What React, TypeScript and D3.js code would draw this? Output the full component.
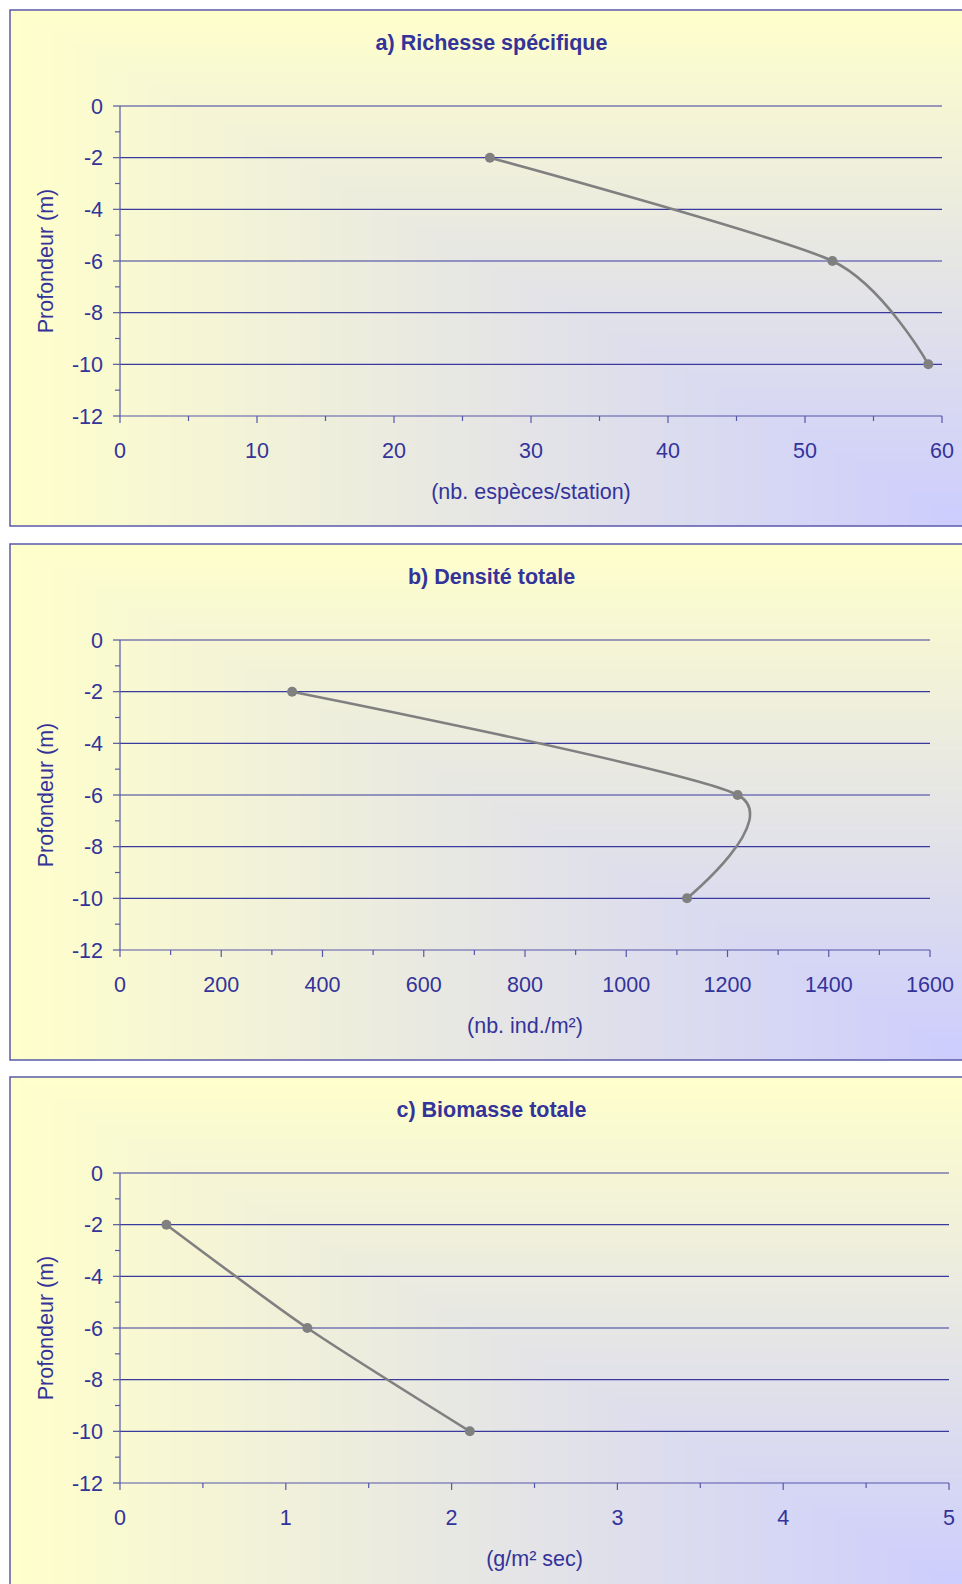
import React from "react";
import * as d3 from "d3";

// Depth of the three stations (m)
const depths = [-2, -6, -10];

// Series values per station
const richesse = [27, 52, 59];
const densite = [340, 1220, 1120];
const biomasse = [0.28, 1.13, 2.11];

// Axis ticks
const yTicks = [0, -2, -4, -6, -8, -10, -12];
const yMinor = [-1, -3, -5, -7, -9, -11];
const xTicksA = [0, 10, 20, 30, 40, 50, 60];
const xMinorA = [5, 15, 25, 35, 45, 55];
const xTicksB = [0, 200, 400, 600, 800, 1000, 1200, 1400, 1600];
const xMinorB = [100, 300, 500, 700, 900, 1100, 1300, 1500];
const xTicksC = [0, 1, 2, 3, 4, 5];
const xMinorC = [0.5, 1.5, 2.5, 3.5, 4.5];

// Texts
const titles = ["a) Richesse spécifique", "b) Densité totale", "c) Biomasse totale"];
const xLabels = ["(nb. espèces/station)", "(nb. ind./m²)", "(g/m² sec)"];
const yLabel = "Profondeur (m)";

const FONT = "'Liberation Sans', Arial, Helvetica, sans-serif";
const NAVY = "#333399";
const AXIS = "#5757a8";
const GRID = "#3a3a9e";
const SERIES = "#808080";

type PanelProps = {
  top: number;
  title: string;
  xLabel: string;
  values: number[];
  xTicks: number[];
  xMinor: number[];
  xRight: number;
  id: string;
};

function Panel({ top, title, xLabel, values, xTicks, xMinor, xRight, id }: PanelProps) {
  const left = 10;
  const width = 963;
  const height = 516;
  const plotTop = top + 96;
  const plotBottom = plotTop + 310;
  const plotLeft = 120;

  const x = d3
    .scaleLinear()
    .domain([xTicks[0], xTicks[xTicks.length - 1]])
    .range([plotLeft, xRight]);
  const y = d3.scaleLinear().domain([-12, 0]).range([plotBottom, plotTop]);

  // corner-anchored fill: bands shrink toward the lower-right corner
  const nBands = 90;
  const colour = d3.interpolateRgb("#FFFFCC", "#CCCCFF");
  const bands = d3.range(nBands).map((i) => {
    const t = i / nBands;
    return {
      x: left + t * width,
      y: top + t * height,
      w: (1 - t) * width + 1,
      h: (1 - t) * height + 1,
      fill: colour(t + 0.5 / nBands),
    };
  });

  const pts = values.map((v, i) => ({ v, d: depths[i] }));
  const line = d3
    .line<{ v: number; d: number }>()
    .x((p) => x(p.v))
    .y((p) => y(p.d))
    .curve(d3.curveCardinal.tension(0.3));

  const xMid = (plotLeft + xRight) / 2;
  const yMid = (plotTop + plotBottom) / 2;

  return (
    <g>
      <clipPath id={id}>
        <rect x={left} y={top} width={width} height={height} />
      </clipPath>
      <g clipPath={`url(#${id})`}>
        {bands.map((b, i) => (
          <rect key={i} x={b.x} y={b.y} width={b.w} height={b.h} fill={b.fill} />
        ))}
      </g>
      <rect
        x={left}
        y={top}
        width={width}
        height={height}
        fill="none"
        stroke="#5a5aaa"
        strokeWidth={1.5}
      />

      <text
        x={left + width / 2}
        y={top + 39.5}
        textAnchor="middle"
        fontFamily={FONT}
        fontWeight="bold"
        fontSize={21.5}
        fill={NAVY}
      >
        {title}
      </text>

      {/* horizontal gridlines */}
      {yTicks
        .filter((t) => t !== -12)
        .map((t) => (
          <line key={t} x1={plotLeft} x2={xRight} y1={y(t)} y2={y(t)} stroke={GRID} strokeWidth={1.2} />
        ))}

      {/* y axis */}
      <line x1={plotLeft} x2={plotLeft} y1={plotTop} y2={plotBottom} stroke={AXIS} strokeWidth={1.2} />
      {yTicks.map((t) => (
        <g key={t}>
          <line x1={plotLeft - 7} x2={plotLeft} y1={y(t)} y2={y(t)} stroke={AXIS} strokeWidth={1.2} />
          <text
            x={plotLeft - 17}
            y={y(t)}
            dy="0.36em"
            textAnchor="end"
            fontFamily={FONT}
            fontSize={21.5}
            fill={NAVY}
          >
            {t}
          </text>
        </g>
      ))}
      {yMinor.map((t) => (
        <line key={t} x1={plotLeft - 5} x2={plotLeft} y1={y(t)} y2={y(t)} stroke={AXIS} strokeWidth={1.2} />
      ))}

      {/* x axis */}
      <line x1={plotLeft} x2={xRight} y1={plotBottom} y2={plotBottom} stroke={AXIS} strokeWidth={1.2} />
      {xTicks.map((t) => (
        <g key={t}>
          <line x1={x(t)} x2={x(t)} y1={plotBottom} y2={plotBottom + 7} stroke={AXIS} strokeWidth={1.2} />
          <text
            x={x(t)}
            y={plotBottom + 42}
            textAnchor="middle"
            fontFamily={FONT}
            fontSize={21.5}
            fill={NAVY}
          >
            {t}
          </text>
        </g>
      ))}
      {xMinor.map((t) => (
        <line key={t} x1={x(t)} x2={x(t)} y1={plotBottom} y2={plotBottom + 5} stroke={AXIS} strokeWidth={1.2} />
      ))}

      <text
        x={xMid}
        y={top + 489}
        textAnchor="middle"
        fontFamily={FONT}
        fontSize={21.5}
        fill={NAVY}
      >
        {xLabel}
      </text>
      <text
        transform={`translate(${45 + 8},${yMid}) rotate(-90)`}
        textAnchor="middle"
        fontFamily={FONT}
        fontSize={21.5}
        fill={NAVY}
      >
        {yLabel}
      </text>

      <path d={line(pts) ?? ""} fill="none" stroke={SERIES} strokeWidth={2.6} strokeLinejoin="round" />
      {pts.map((p, i) => (
        <circle key={i} cx={x(p.v)} cy={y(p.d)} r={5} fill={SERIES} />
      ))}
    </g>
  );
}

export default function App() {
  return (
    <svg
      width={962}
      height={1584}
      style={{ position: "absolute", left: 0, top: 0, display: "block", background: "#ffffff" }}
    >
      <Panel
        id="pa"
        top={10}
        title={titles[0]}
        xLabel={xLabels[0]}
        values={richesse}
        xTicks={xTicksA}
        xMinor={xMinorA}
        xRight={942}
      />
      <Panel
        id="pb"
        top={544}
        title={titles[1]}
        xLabel={xLabels[1]}
        values={densite}
        xTicks={xTicksB}
        xMinor={xMinorB}
        xRight={930}
      />
      <Panel
        id="pc"
        top={1077}
        title={titles[2]}
        xLabel={xLabels[2]}
        values={biomasse}
        xTicks={xTicksC}
        xMinor={xMinorC}
        xRight={949}
      />
    </svg>
  );
}
